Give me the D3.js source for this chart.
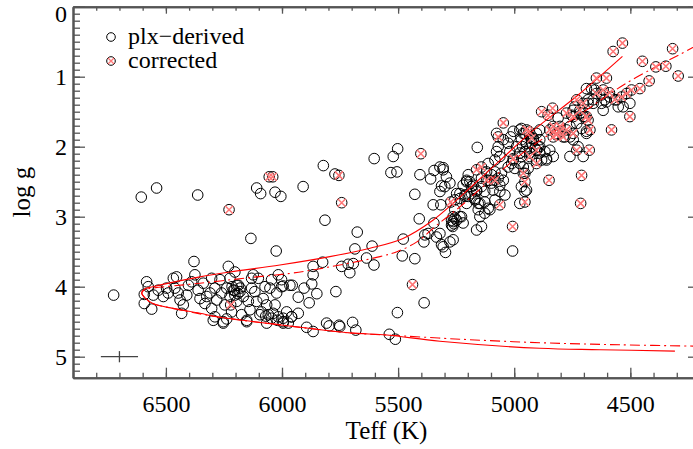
<!DOCTYPE html>
<html>
<head>
<meta charset="utf-8">
<script src="https://cdn.jsdelivr.net/npm/d3@7"></script>
<style>
  body { margin: 0; background: #fff; }
  svg { display: block; font-family: 'Liberation Serif', 'Times New Roman', serif; }
</style>
</head>
<body>
<div id="chart"></div>
<script>
// [Teff, log g] of stars with parallax-derived gravities
const plxDerived = [
  [6725, 4.12], [6606, 2.72], [6540, 2.59], [6363, 2.69], [6109, 2.59], [6092, 2.67], [6030, 2.65],
  [6005, 2.71], [5909, 2.57], [5822, 2.27], [5772, 2.39], [5815, 3.05], [6134, 3.31], [6025, 3.49],
  [6379, 3.64], [5603, 2.17], [5521, 2.14], [5502, 2.03], [5531, 2.37], [5505, 2.36], [5406, 2.40],
  [5360, 2.46], [5345, 2.34], [5306, 2.30], [5313, 2.56], [5320, 2.64], [5428, 2.68], [5349, 2.83],
  [5316, 2.83], [5409, 3.03], [5676, 3.22], [5686, 3.46], [5612, 3.42], [5636, 3.59], [5604, 3.69],
  [5743, 3.71], [5715, 3.68], [5708, 3.80], [5693, 3.67], [5825, 3.65], [5866, 3.71], [5866, 3.83],
  [5872, 3.96], [5956, 3.98], [5768, 4.07], [5883, 4.23], [5905, 4.02], [5850, 4.10], [5930, 4.15],
  [5478, 3.32], [5482, 3.56], [5428, 3.60], [5389, 3.36], [5388, 4.23], [5503, 4.37],
  [5346, 3.09], [5320, 3.24], [5306, 3.43], [5263, 3.33], [5296, 3.51], [5263, 3.07], [5270, 3.12],
  [5385, 3.26], [5371, 3.24], [5335, 3.29], [5313, 3.40], [5277, 3.36], [5234, 3.00], [5220, 3.09],
  [5270, 3.05], [5260, 3.10], [5255, 3.02], [5265, 3.14], [5162, 3.19], [5148, 3.00], [5141, 3.14],
  [5995, 4.50], [5959, 4.43], [5930, 4.38], [5894, 4.58], [5866, 4.64], [5808, 4.52], [5797, 4.56],
  [5754, 4.55], [5751, 4.57], [5696, 4.51], [5682, 4.62], [5538, 4.68], [5512, 4.75], [6002, 3.90],
  [5995, 3.99],
  [6583, 3.93], [6576, 4.00], [6593, 4.11], [6593, 4.24], [6561, 4.32], [6554, 4.12], [6533, 4.05],
  [6511, 4.14], [6497, 4.02], [6490, 4.09], [6468, 3.88], [6454, 3.86], [6461, 4.02], [6447, 4.09],
  [6439, 4.19], [6432, 4.38], [6425, 4.26], [6410, 4.12], [6403, 3.98], [6389, 3.93], [6375, 3.83],
  [6361, 4.05], [6353, 4.17], [6339, 3.95], [6332, 4.24], [6324, 4.14], [6310, 4.09], [6303, 3.88],
  [6303, 4.31], [6289, 4.02], [6289, 4.43], [6281, 4.19], [6267, 3.90], [6260, 4.09], [6253, 4.50],
  [6246, 4.26], [6238, 4.02], [6231, 3.71], [6224, 3.88], [6224, 4.14], [6217, 4.36], [6210, 4.05],
  [6203, 4.12], [6203, 3.79], [6195, 4.21], [6188, 3.98], [6181, 4.07], [6174, 4.40], [6167, 4.14],
  [6152, 4.50], [6145, 4.21], [6138, 4.33], [6131, 3.88], [6131, 4.02], [6124, 3.83], [6117, 4.07],
  [6109, 4.21], [6102, 3.88], [6088, 4.36], [6081, 4.17], [6073, 4.00], [6066, 4.26], [6059, 4.40],
  [6052, 4.02], [6045, 3.90], [6038, 4.38], [6030, 4.26], [6023, 4.09], [6016, 3.83], [6016, 4.43],
  [6002, 4.00], [5995, 4.45], [5980, 4.36], [5973, 4.52], [5966, 3.98], [5959, 4.43],
  [6296, 4.48], [6253, 4.52], [6238, 4.46], [6152, 4.48], [6066, 4.52], [5995, 4.52],
  [6095, 4.40], [6070, 4.42], [6045, 4.45], [6020, 4.48], [6215, 4.00], [6205, 4.05], [6195, 3.98],
  [6190, 4.10], [6180, 4.02],
  [5159, 2.01], [5069, 2.00], [5076, 2.07], [5062, 2.14], [5083, 2.19], [5112, 2.24], [5119, 2.36],
  [5098, 2.40], [5083, 2.36], [5141, 2.45], [5112, 2.48], [5062, 2.55], [5047, 2.48], [5198, 2.40],
  [5205, 2.50], [5184, 2.57], [5212, 2.69], [5184, 2.67], [5162, 2.64], [5169, 2.76], [5148, 2.81],
  [5234, 2.74], [5205, 2.81], [5155, 2.90], [5127, 2.95], [5112, 2.88], [5019, 2.07], [5004, 2.19],
  [5011, 2.24], [5026, 2.29], [4997, 2.31], [4976, 2.24], [4969, 1.74], [4954, 1.81], [4933, 1.86],
  [4918, 1.90], [4969, 1.90], [4947, 1.95], [4964, 2.00], [4954, 2.07], [4933, 2.09], [4976, 2.09],
  [4925, 1.95], [4911, 2.02], [4897, 2.00], [4890, 2.09], [4868, 2.07], [4847, 2.05], [4832, 2.14],
  [4861, 2.17], [4882, 2.19], [4954, 2.38], [4961, 2.29], [4947, 2.62], [4940, 2.31], [5004, 1.78],
  [5016, 1.86], [5026, 1.95], [4990, 2.00], [4976, 1.76], [4961, 1.81], [4918, 1.88], [4904, 1.81],
  [4890, 2.00], [4890, 1.76], [4890, 1.90], [4904, 2.05], [4861, 2.19], [5076, 1.81], [5047, 1.90],
  [4969, 2.14], [4933, 2.02], [4904, 2.19],
  [5141, 2.57], [5177, 2.55], [5205, 2.48], [5220, 2.55], [5234, 2.67], [5256, 2.76], [5198, 2.71],
  [5169, 2.74], [5155, 2.81], [5127, 2.64], [5091, 2.62], [5098, 2.52], [5069, 2.45], [5055, 2.38],
  [5062, 2.64], [5040, 2.69], [5083, 2.76], [5105, 2.90], [5248, 2.67], [5212, 2.71], [5191, 2.50],
  [5162, 2.62], [5127, 2.79], [5320, 2.29], [5306, 2.33], [5292, 2.43], [5299, 2.57], [5277, 2.52],
  [5256, 2.90], [5263, 3.00], [5248, 3.05], [5227, 3.00], [4976, 2.81], [4954, 2.64], [4969, 2.57],
  [5007, 3.49],
  [4811, 1.59], [4825, 1.74], [4760, 1.86], [4753, 1.55], [4739, 1.43], [4703, 1.57], [4682, 1.33],
  [4660, 1.38], [4689, 1.17], [4653, 1.19], [4624, 1.26], [4610, 1.33], [4660, 1.33], [4588, 1.29],
  [4559, 1.33], [4531, 1.43], [4746, 1.48], [4717, 1.52], [4696, 1.57], [4731, 1.67], [4760, 1.71],
  [4710, 1.74], [4782, 1.86], [4689, 1.81], [4689, 1.78], [4725, 2.00], [4746, 1.90], [4502, 1.38],
  [4552, 1.43], [4603, 1.36], [4617, 1.48], [4667, 1.17], [4682, 1.38], [4624, 1.38], [4760, 2.14],
  [4703, 2.14]
];

// [Teff, log g] of stars whose gravities were corrected
const corrected = [
  [6228, 2.90], [6055, 2.43], [6040, 2.43], [5755, 2.41], [5743, 2.80], [5402, 2.10], [5273, 2.79],
  [5438, 3.97], [5007, 3.14], [6221, 4.26],
  [5047, 1.66], [5069, 1.86], [5141, 2.29], [5083, 2.48], [4937, 1.78], [4925, 1.88], [4904, 2.24],
  [4954, 2.50], [4954, 2.79], [4850, 2.48], [4882, 1.50], [4835, 1.45], [4832, 1.71], [4803, 1.78],
  [4818, 1.81], [4789, 1.86], [5162, 2.33], [5119, 2.48], [4947, 1.76], [4847, 1.76], [4818, 1.83],
  [4803, 1.71], [4775, 1.76], [4933, 2.14], [4904, 2.05], [5004, 2.17], [4961, 2.38], [5062, 2.83],
  [4854, 1.55], [4832, 1.86],
  [4775, 1.52], [4682, 1.62], [4674, 1.76], [4746, 1.81], [4746, 1.57], [4717, 1.48], [4703, 1.38],
  [4689, 1.57], [4731, 1.33], [4516, 1.24], [4567, 1.33], [4590, 1.23], [4646, 1.24], [4617, 1.19],
  [4538, 1.29], [4495, 1.19], [4459, 1.17], [4646, 1.02], [4603, 1.02], [4502, 1.57], [4581, 1.76],
  [4574, 0.64], [4534, 0.52], [4448, 0.78], [4419, 1.06], [4390, 0.86], [4347, 0.85], [4318, 0.60],
  [4294, 0.99], [4731, 2.05], [4677, 2.05], [4710, 2.41], [4714, 2.81]
];

// Isochrone tracks [Teff, log g]
const isoSolid = [
  [4308, 4.92], [4631, 4.90], [4890, 4.88], [5320, 4.78], [5548, 4.69], [5708, 4.66], [5996, 4.55],
  [6280, 4.43], [6353, 4.38], [6470, 4.31], [6556, 4.24], [6590, 4.16], [6604, 4.09], [6590, 4.03],
  [6556, 4.00], [6353, 3.86], [6224, 3.79], [6009, 3.69], [5794, 3.57], [5621, 3.45], [5479, 3.31],
  [5350, 3.05], [5247, 2.76], [5191, 2.59], [5062, 2.20], [4933, 1.81], [4717, 1.24], [4534, 0.71]
];
const isoDashDot = [
  [4200, 4.85], [4545, 4.83], [4890, 4.80], [5234, 4.75], [5548, 4.69], [5708, 4.66], [5996, 4.55],
  [6280, 4.43], [6470, 4.31], [6556, 4.24], [6590, 4.16], [6604, 4.09], [6590, 4.04], [6556, 4.02],
  [6353, 3.95], [6138, 3.87], [5966, 3.81], [5867, 3.76], [5751, 3.69], [5578, 3.57], [5505, 3.50],
  [5419, 3.36], [5333, 3.12], [5234, 2.86], [5135, 2.57], [4947, 2.05], [4717, 1.54], [4516, 1.09],
  [4280, 0.67], [4200, 0.53]
];

// typical error bar
const errTeff = 6700, errLogg = 5.0, errDT = 80, errDG = 0.08;

const xMajor = [6500, 6000, 5500, 5000, 4500];
const yMajor = [0, 1, 2, 3, 4, 5];

const width = 693;
const height = 449;
const axisColor = '#555';
const xColor = '#ff7575';

const x = d3.scaleLinear().domain([6900, 4200]).range([73, 700]);
const y = d3.scaleLinear().domain([0, 5.3]).range([6.7, 377.7]);

const svg = d3.select('#chart').append('svg')
  .attr('width', width)
  .attr('height', height);

svg.append('rect').attr('width', width).attr('height', height).attr('fill', '#fff');

svg.append('defs').append('clipPath').attr('id', 'plot-clip')
  .append('rect')
  .attr('x', 73).attr('y', 6.7)
  .attr('width', 627).attr('height', 371);

const xMinor = d3.range(6900, 4199, -100);
const yMinor = d3.range(0, 5.31, 0.1);

// helper to style an axis group
const styleAxis = (g) => {
  g.selectAll('path.domain').attr('stroke', axisColor).attr('stroke-width', 2);
  g.selectAll('.tick line').attr('stroke', axisColor).attr('stroke-width', 1.3);
  g.selectAll('.tick text').attr('fill', '#000').style('font-size', '24px')
    .style('font-family', "'Liberation Serif', 'Times New Roman', serif");
};

// Bottom axis (ticks pointing up)
svg.append('g').attr('transform', `translate(0,${y(5.3)})`)
  .call(d3.axisBottom(x).tickValues(xMinor).tickSizeInner(-5).tickSizeOuter(0).tickFormat(''))
  .call(styleAxis);
svg.append('g').attr('transform', `translate(0,${y(5.3)})`)
  .call(d3.axisBottom(x).tickValues(xMajor).tickSizeInner(-10).tickSizeOuter(0).tickPadding(17).tickFormat(d3.format('d')))
  .call(styleAxis);

// Top axis (ticks pointing down)
svg.append('g').attr('transform', `translate(0,${y(0)})`)
  .call(d3.axisTop(x).tickValues(xMinor).tickSizeInner(-4).tickSizeOuter(0).tickFormat(''))
  .call(styleAxis);
svg.append('g').attr('transform', `translate(0,${y(0)})`)
  .call(d3.axisTop(x).tickValues(xMajor).tickSizeInner(-7).tickSizeOuter(0).tickFormat(''))
  .call(styleAxis);

// Left axis (ticks pointing right)
svg.append('g').attr('transform', `translate(${x(6900)},0)`)
  .call(d3.axisLeft(y).tickValues(yMinor).tickSizeInner(-7).tickSizeOuter(0).tickFormat(''))
  .call(styleAxis);
const yAxisG = svg.append('g').attr('transform', `translate(${x(6900)},0)`)
  .call(d3.axisLeft(y).tickValues(yMajor).tickSizeInner(-12).tickSizeOuter(0).tickPadding(6).tickFormat(d3.format('d')))
  .call(styleAxis);
// keep the "0" label inside the picture
yAxisG.selectAll('.tick text').filter((d) => d === 0).attr('dy', '0.6em');

// Right axis (ticks pointing left)
svg.append('g').attr('transform', `translate(${x(4200)},0)`)
  .call(d3.axisRight(y).tickValues(yMinor).tickSizeInner(-7).tickSizeOuter(0).tickFormat(''))
  .call(styleAxis);
svg.append('g').attr('transform', `translate(${x(4200)},0)`)
  .call(d3.axisRight(y).tickValues(yMajor).tickSizeInner(-12).tickSizeOuter(0).tickFormat(''))
  .call(styleAxis);

// Axis titles
svg.append('text')
  .attr('x', (x.range()[0] + x.range()[1]) / 2)
  .attr('y', 439)
  .attr('text-anchor', 'middle')
  .style('font-size', '25px')
  .text('Teff (K)');

svg.append('text')
  .attr('transform', `translate(30,${(y.range()[0] + y.range()[1]) / 2}) rotate(-90)`)
  .attr('text-anchor', 'middle')
  .style('font-size', '25px')
  .text('log g');

const plot = svg.append('g').attr('clip-path', 'url(#plot-clip)');

// Data circles
const allStars = plxDerived.concat(corrected);
plot.selectAll('circle.star')
  .data(allStars)
  .enter()
  .append('circle')
  .attr('class', 'star')
  .attr('cx', (d) => x(d[0]))
  .attr('cy', (d) => y(d[1]))
  .attr('r', 5.3)
  .attr('fill', 'none')
  .attr('stroke', '#000')
  .attr('stroke-width', 1);

// Isochrones
const line = d3.line()
  .x((d) => x(d[0]))
  .y((d) => y(d[1]))
  .curve(d3.curveCatmullRom.alpha(0.5));

plot.append('path')
  .datum(isoSolid)
  .attr('d', line)
  .attr('fill', 'none')
  .attr('stroke', '#ff0000')
  .attr('stroke-width', 1.1);

plot.append('path')
  .datum(isoDashDot)
  .attr('d', line)
  .attr('fill', 'none')
  .attr('stroke', '#ff0000')
  .attr('stroke-width', 1.1)
  .attr('stroke-dasharray', '10,4,2,4');

// Red crosses on the corrected stars
const xMark = 'M-4,-4L4,4M-4,4L4,-4';
plot.selectAll('path.corr')
  .data(corrected)
  .enter()
  .append('path')
  .attr('class', 'corr')
  .attr('transform', (d) => `translate(${x(d[0])},${y(d[1])})`)
  .attr('d', xMark)
  .attr('fill', 'none')
  .attr('stroke', xColor)
  .attr('stroke-width', 1.5);

// Typical error bar
const eb = svg.append('g').attr('stroke', '#444').attr('stroke-width', 1.3);
eb.append('line')
  .attr('x1', x(errTeff + errDT)).attr('x2', x(errTeff - errDT))
  .attr('y1', y(errLogg)).attr('y2', y(errLogg));
eb.append('line')
  .attr('x1', x(errTeff)).attr('x2', x(errTeff))
  .attr('y1', y(errLogg - errDG)).attr('y2', y(errLogg + errDG));

// Legend
const legend = svg.append('g').style('font-size', '24px');
legend.append('circle').attr('cx', 111).attr('cy', 37).attr('r', 4.3)
  .attr('fill', 'none').attr('stroke', '#000');
legend.append('text').attr('x', 128).attr('y', 44).text('plx\u2212derived');
legend.append('circle').attr('cx', 111).attr('cy', 61).attr('r', 4.3)
  .attr('fill', 'none').attr('stroke', '#000');
legend.append('path').attr('transform', 'translate(111,61)').attr('d', 'M-3,-3L3,3M-3,3L3,-3')
  .attr('fill', 'none').attr('stroke', xColor).attr('stroke-width', 1.3);
legend.append('text').attr('x', 128).attr('y', 68).text('corrected');
</script>
</body>
</html>
